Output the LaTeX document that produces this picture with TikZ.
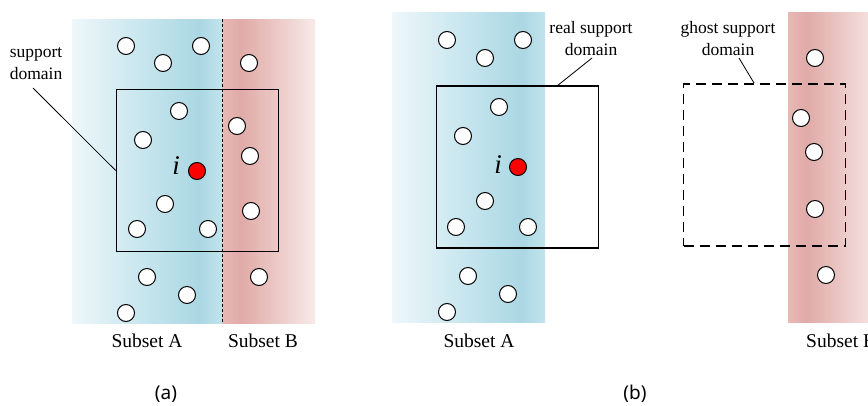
\documentclass[tikz,border=0pt]{standalone}
\usepackage{fontspec}
\setmainfont{Liberation Serif}
\newfontfamily\capfont{Noto Sans}
\usetikzlibrary{calc}

\definecolor{bandBlueA}{RGB}{238,247,250}
\definecolor{bandBlueB}{RGB}{202,231,239}
\definecolor{bandBlueC}{RGB}{170,215,227}
\definecolor{bandBlueD}{RGB}{194,228,236}
\definecolor{bandRedA}{RGB}{232,185,182}
\definecolor{bandRedB}{RGB}{224,170,167}
\definecolor{bandRedC}{RGB}{248,234,232}
\definecolor{dotred}{RGB}{255,0,0}

% horizontal shadings: the path spans 25bp..75bp of the 100bp shading
\pgfdeclarehorizontalshading{bluebandshade}{100bp}{%
  color(0bp)=(bandBlueA); color(25bp)=(bandBlueA); color(47bp)=(bandBlueB);
  color(67.5bp)=(bandBlueC); color(75bp)=(bandBlueD); color(100bp)=(bandBlueD)}
\pgfdeclarehorizontalshading{redbandshade}{100bp}{%
  color(0bp)=(bandRedA); color(25bp)=(bandRedA); color(35bp)=(bandRedB);
  color(75bp)=(bandRedC); color(100bp)=(bandRedC)}

\tikzset{
  particle/.style={circle, draw=black, line width=1pt, fill=white,
    minimum size=17pt, inner sep=0pt},
  centre/.style={particle, fill=dotred},
  domainbox/.style={draw=black, line width=1.6pt, minimum width=162pt,
    minimum height=162pt, inner sep=0pt},
  ghostbox/.style={domainbox, dash pattern=on 10pt off 6pt},
  lbl/.style={font=\fontsize{17.5}{22}\selectfont, align=center, inner sep=0pt},
  setlbl/.style={font=\fontsize{19.5}{22}\selectfont, inner sep=0pt},
  caplbl/.style={font=\capfont\fontsize{19}{22}\selectfont, inner sep=0pt},
  idx/.style={font=\itshape\fontsize{27}{30}\selectfont, inner sep=0pt},
  leader/.style={draw=black, line width=0.8pt}
}

\begin{document}
\begin{tikzpicture}[x=1pt, y=-1pt]
\clip (0,0) rectangle (868,405);
\fill[white] (0,0) rectangle (868,405);

% ---------- (a) ----------
\shade[shading=bluebandshade] (72,19) rectangle (222,323);
\shade[shading=redbandshade] (222,19) rectangle (315,323);
\draw[line width=0.9pt, dash pattern=on 3pt off 2pt] (222,19) -- (222,323);

\node[domainbox] (sqa) at (197.5,170.5) {};

\foreach \n/\x/\y in {a1/126/46, a2/163/63, a3/201/46, a4/249/63, a5/179/111,
    a6/237/126, a7/143/140, a8/250/156, a9/165/204, a10/251/211, a11/137/229,
    a12/208/229, a13/147/277, a14/187/295, a15/259/277, a16/126/313}
  \node[particle] (\n) at (\x,\y) {};
\node[centre] (ia) at (197,171) {};
\node[idx] (ila) at (176,166) {i};

\node[lbl] (sda) at (36,64) {support\\domain};
\coordinate (sdaend) at (33,88);
\path[leader] (sdaend) -- (sqa.west);

\node[setlbl] (saa) at (147,341) {Subset A};
\node[setlbl] (sba) at (263,341) {Subset B};
\node[caplbl] (capa) at (166,394) {(a)};

% ---------- (b), real side ----------
\shade[shading=bluebandshade] (392,12) rectangle (545,322);
\node[domainbox] (sqb) at (517.5,167) {};

\foreach \n/\x/\y in {b1/447/40, b2/485/58, b3/523/40, b4/499/107, b5/463/136,
    b6/485/201, b7/456/227, b8/528/227, b9/468/276, b10/508/294, b11/447/312}
  \node[particle] (\n) at (\x,\y) {};
\node[centre] (ib) at (518,167) {};
\node[idx] (ilb) at (498,165) {i};

\node[lbl] (rsd) at (591,39) {real support\\domain};
\coordinate (rsdend) at (592,58);
\coordinate (rsdhit) at (557,86);
\path[leader] (rsdend) -- (rsdhit);

\node[setlbl] (sab) at (479,341) {Subset A};
\node[caplbl] (capb) at (635,394) {(b)};

% ---------- (b), ghost side ----------
\shade[shading=redbandshade] (788,12) rectangle (881,322);
\node[ghostbox] (sqg) at (764.5,165) {};

\foreach \n/\x/\y in {g1/815/58, g2/801/118, g3/814/152, g4/815/209, g5/826/275}
  \node[particle] (\n) at (\x,\y) {};

\node[lbl] (gsd) at (728,39) {ghost support\\domain};
\coordinate (gsdend) at (739,58);
\coordinate (gsdhit) at (754,83);
\path[leader] (gsdend) -- (gsdhit);

\node[setlbl, anchor=west] (sbb) at (806,341) {Subset B};
\end{tikzpicture}
\end{document}
